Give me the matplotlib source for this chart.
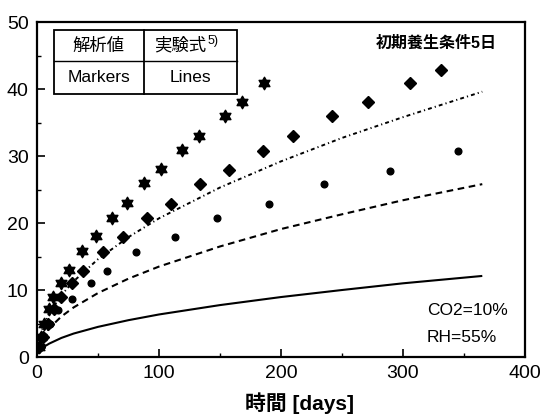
import numpy as np
import matplotlib
matplotlib.use("Agg")
import matplotlib.pyplot as plt
from matplotlib.path import Path
from matplotlib.patches import Rectangle
from matplotlib.lines import Line2D

plt.rcParams['font.family'] = ['Liberation Sans', 'Noto Sans CJK JP', 'DejaVu Sans']

# Analysis results (markers): elapsed time [days] vs. carbonation depth
star_t = [1.5, 3, 6, 10, 13.5, 20, 26, 36.5, 48, 61.5, 73.5, 88, 102, 119, 133, 154, 168, 186]
star_v = [1.5, 3.0, 5.0, 7.2, 9.0, 11.0, 13.0, 15.8, 18.0, 20.8, 23.0, 25.9, 28.0, 30.9, 33.0, 35.9, 38.0, 40.9]

diam_t = [2, 4.5, 9, 14, 20, 28.5, 38, 54, 70.5, 90, 110, 133.5, 157, 185, 210, 242, 271.5, 305.5, 331]
diam_v = [1.5, 3.0, 5.0, 7.2, 9.0, 11.0, 12.9, 15.7, 17.9, 20.8, 22.9, 25.8, 27.9, 30.8, 33.0, 35.9, 38.0, 40.9, 42.9]

circ_t = [3, 6, 11, 17, 29, 44, 57.5, 81.5, 113.5, 147.5, 190, 235, 289, 345]
circ_v = [1.5, 3.0, 5.0, 7.0, 8.7, 11.0, 12.9, 15.7, 17.9, 20.7, 22.9, 25.8, 27.8, 30.7]

# Experimental formula (lines)
line_t = [0.5, 1, 2, 5, 10, 20, 30, 50, 75, 100, 150, 200, 250, 300, 365]
solid_v = [0.45, 0.65, 0.9, 1.45, 2.0, 2.85, 3.5, 4.5, 5.5, 6.35, 7.75, 8.95, 10.0, 11.0, 12.1]
dash_v = [0.95, 1.35, 1.9, 3.0, 4.3, 6.05, 7.4, 9.55, 11.7, 13.5, 16.5, 19.1, 21.3, 23.4, 25.8]
dashdot_v = [1.45, 2.05, 2.95, 4.6, 6.55, 9.25, 11.3, 14.6, 17.9, 20.7, 25.3, 29.2, 32.7, 35.8, 39.6]

x_ticks = [0, 100, 200, 300, 400]
y_ticks = [0, 10, 20, 30, 40, 50]

# Six-pointed star (hexagram) marker
ang = np.pi / 2 + np.arange(12) * np.pi / 6
rad = np.where(np.arange(12) % 2 == 0, 1.0, 1.0 / np.sqrt(3))
verts = np.column_stack([rad * np.cos(ang), rad * np.sin(ang)])
verts = np.vstack([verts, verts[:1]])
codes = [Path.MOVETO] + [Path.LINETO] * 11 + [Path.CLOSEPOLY]
hexagram = Path(verts, codes)

fig = plt.figure(figsize=(5.46, 4.16), dpi=100)
ax = fig.add_axes([0.0678, 0.1418, 0.8937, 0.8053])

ax.plot(line_t, solid_v, color='black', lw=1.5, solid_capstyle='butt')
ax.plot(line_t, dash_v, color='black', lw=1.5, linestyle=(0, (3.2, 2.2)))
ax.plot(line_t, dashdot_v, color='black', lw=1.4, linestyle=(0, (2.0, 1.6, 0.6, 1.6)))

ax.plot(star_t, star_v, linestyle='none', marker=hexagram, ms=9, color='black', mec='black')
ax.plot(diam_t, diam_v, linestyle='none', marker='D', ms=6.5, color='black', mec='black')
ax.plot(circ_t, circ_v, linestyle='none', marker='o', ms=4.8, color='black', mec='black')

ax.set_xlim(0, 400)
ax.set_ylim(0, 50)
ax.set_xticks(x_ticks)
ax.set_yticks(y_ticks)
ax.set_xticks([50, 150, 250, 350], minor=True)
ax.set_yticks([5, 15, 25, 35, 45], minor=True)
ax.tick_params(which='major', direction='in', length=6, width=1.2, labelsize=14, pad=6)
ax.tick_params(which='minor', direction='in', length=3, width=1.0)
for s in ax.spines.values():
    s.set_linewidth(1.6)

# Legend table in the upper left
tr = ax.transAxes
x0, x1, xm = 0.0348, 0.410, 0.219
y0, y1, ym = 0.785, 0.976, 0.884
ax.add_patch(Rectangle((x0, y0), x1 - x0, y1 - y0, transform=tr, fill=False, lw=1.3, ec='black', zorder=5))
ax.add_line(Line2D([xm, xm], [y0, y1], transform=tr, lw=1.3, color='black', zorder=5))
ax.add_line(Line2D([x0, x1], [ym, ym], transform=tr, lw=1.0, color='black', zorder=5))
cx1, cx2 = (x0 + xm) / 2, (xm + x1) / 2
ax.text(cx1, (ym + y1) / 2, '解析値', transform=tr, ha='center', va='center', fontsize=12.5)
ax.text(0.240, (ym + y1) / 2, '実験式', transform=tr, ha='left', va='center', fontsize=12.5)
ax.text(0.350, (ym + y1) / 2 + 0.012, '5)', transform=tr, ha='left', va='center', fontsize=9)
ax.text(cx1, (y0 + ym) / 2, 'Markers', transform=tr, ha='center', va='center', fontsize=12.5)
ax.text(cx2, (y0 + ym) / 2, 'Lines', transform=tr, ha='center', va='center', fontsize=12.5)

ax.text(0.943, 0.937, '初期養生条件5日', transform=tr, ha='right', va='center', fontsize=11.5, fontweight='bold')
ax.text(0.799, 0.140, 'CO2=10%', transform=tr, ha='left', va='center', fontsize=12.5)
ax.text(0.799, 0.057, 'RH=55%', transform=tr, ha='left', va='center', fontsize=12.5)

fig.text(299 / 546, 1 - 403 / 416, '時間 [days]', ha='center', va='center', fontsize=15, fontweight='bold')

fig.savefig('out.png', dpi=100)
